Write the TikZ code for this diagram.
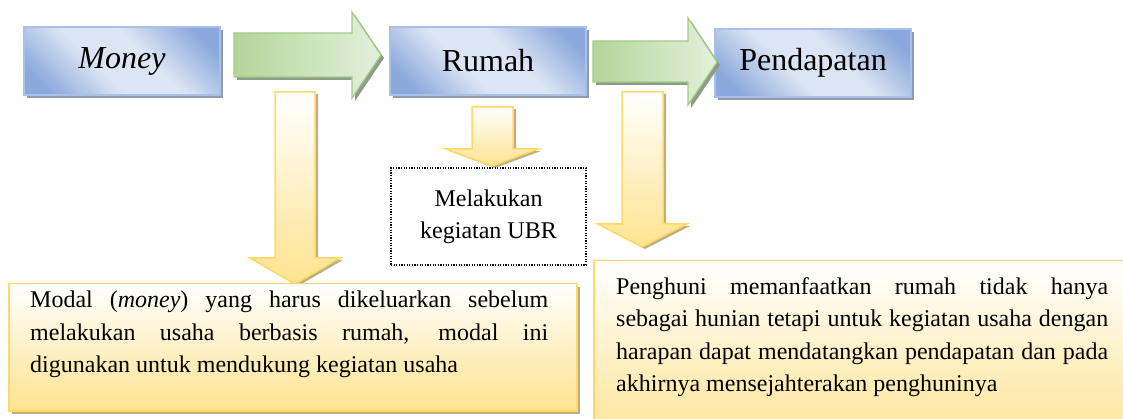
\documentclass[tikz,border=0pt]{standalone}
\usepackage{fontspec}
\setmainfont{Liberation Serif}
\usepackage{tikz}
\usetikzlibrary{shadows}
\definecolor{boxlight}{HTML}{DCE5F4}
\definecolor{boxdark}{HTML}{8AA8DB}
\definecolor{boxline}{HTML}{A9C0E8}
\definecolor{boxshade}{HTML}{8F9AAC}
\definecolor{grlight}{HTML}{E3F0DB}
\definecolor{grdark}{HTML}{B3D69A}
\definecolor{grline}{HTML}{A2CD87}
\definecolor{grshade}{HTML}{8F9A88}
\definecolor{ydark}{HTML}{FFE38F}
\definecolor{yline}{HTML}{FFD966}
\definecolor{yshade}{HTML}{BDAE86}
\pgfdeclarehorizontalshading{stagefill}{100bp}{color(0bp)=(boxdark); color(22bp)=(boxdark); color(42bp)=(boxlight); color(58bp)=(boxlight); color(78bp)=(boxdark); color(100bp)=(boxdark)}
\tikzstyle{stage}=[
	draw=boxline,
	line width=1.5pt,
	minimum width=196pt,
	minimum height=68pt,
	inner sep=0pt,
	shading=stagefill,
	shading angle=45,
	font=\rmfamily\fontsize{32}{38}\selectfont,
	drop shadow={shadow xshift=3pt, shadow yshift=-3pt, fill=boxshade, opacity=1}
]
\tikzstyle{bigarrow}=[
	draw=grline,
	line width=1.2pt,
	left color=grdark,
	right color=grlight,
	drop shadow={shadow xshift=3pt, shadow yshift=-3pt, fill=grshade, opacity=1}
]
\tikzstyle{downarrow}=[
	draw=yline,
	line width=1.5pt,
	top color=white,
	bottom color=ydark,
	drop shadow={shadow xshift=3pt, shadow yshift=-2pt, fill=yshade, opacity=1}
]
\tikzstyle{notebox}=[
	draw=yline,
	line width=1.5pt,
	top color=white,
	bottom color=ydark,
	inner sep=0pt
]
\tikzstyle{notetext}=[
	inner sep=0pt,
	align=justify,
	font=\rmfamily\fontsize{24}{32.5}\selectfont
]

\begin{document}
\begin{tikzpicture}[x=1pt, y=-1pt]
\useasboundingbox (0,0) rectangle (1123,419);
\clip (0,0) rectangle (1123,419);

\node[stage] (money) at (122,61) {\textit{Money}};
\node[stage] (rumah) at (488,61) {Rumah};
\node[stage] (pendapatan) at (813,63) {Pendapatan};

\path[bigarrow] (234,33) -- (352,33) -- (352,12) -- (381,55) -- (352,98) -- (352,77) -- (234,77) -- cycle;
\path[bigarrow] (593,41) -- (688,41) -- (688,18) -- (717,62) -- (688,105) -- (688,82) -- (593,82) -- cycle;

\path[downarrow] (275,92) -- (315,92) -- (315,258) -- (340,258) -- (295,284) -- (250,258) -- (275,258) -- cycle;
\path[downarrow] (472,107) -- (513,107) -- (513,149) -- (538,149) -- (492,166) -- (446,149) -- (472,149) -- cycle;
\path[downarrow] (622,92) -- (663,92) -- (663,224) -- (687,224) -- (642,247) -- (598,224) -- (622,224) -- cycle;

\node[draw=black, line width=1.2pt, dash pattern=on 1.2pt off 1.4pt, minimum width=195pt, minimum height=97pt, align=center, font=\rmfamily\fontsize{24}{32}\selectfont] (ubr) at (488.5,216.5) {Melakukan\\kegiatan UBR};

\node[notebox, minimum width=568pt, minimum height=127pt, anchor=north west, drop shadow={shadow xshift=3pt, shadow yshift=-3pt, fill=yshade, opacity=1}] (modal) at (8,283) {};
\node[notetext, text width=518pt, anchor=north west] (modaltext) at ([shift={(22,8)}]modal.north west) {Modal (\textit{money}) yang harus dikeluarkan sebelum\linebreak melakukan usaha berbasis rumah, modal ini\linebreak digunakan untuk mendukung kegiatan usaha};

\node[notebox, minimum width=560pt, minimum height=190pt, anchor=north west] (penghuni) at (593,260) {};
\node[notetext, text width=492pt, anchor=north west] (penghunitext) at ([shift={(23,17)}]penghuni.north west) {Penghuni memanfaatkan rumah tidak hanya\linebreak sebagai hunian tetapi untuk kegiatan usaha dengan\linebreak harapan dapat mendatangkan pendapatan dan pada\linebreak akhirnya mensejahterakan penghuninya};

\end{tikzpicture}
\end{document}
